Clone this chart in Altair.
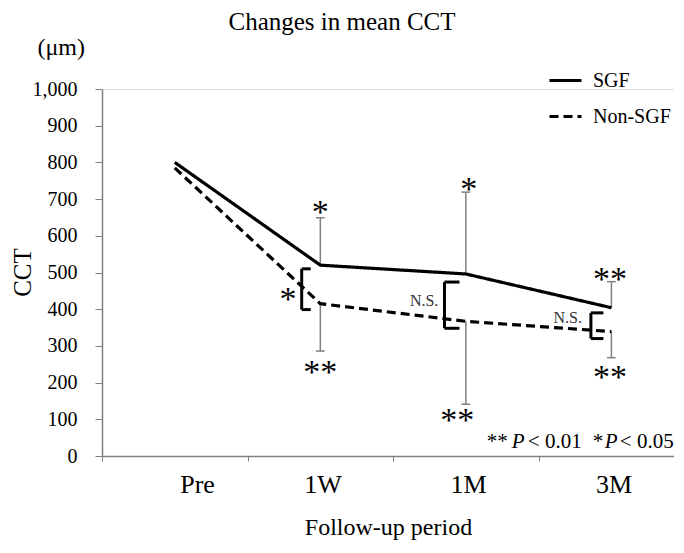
import altair as alt
import pandas as pd

# ---- data ----
periods = ["Pre", "1W", "1M", "3M"]
period_pos = [0.5, 1.5, 2.5, 3.5]
sgf_mean = [800, 520, 496, 404]
nonsgf_mean = [785, 415, 367, 339]
sgf_upper = [None, 649, 719, 475]
nonsgf_lower = [None, 286, 141, 268]
y_ticks = [0, 100, 200, 300, 400, 500, 600, 700, 800, 900, 1000]

# significance stars: (x, y, text)
star_x = [1.5, 1.5, 1.278, 2.52, 2.44, 3.49, 3.49]
star_y = [680, 244, 443, 744, 114, 499, 231]
star_text = ["*", "**", "*", "*", "**", "**", "**"]

ns_x = [2.213, 3.20]
ns_y = [422, 377]

br_x = [1.372, 2.353, 3.359]
br_x2 = [1.434, 2.456, 3.445]
br_top = [510, 474, 390]
br_bot = [399, 348, 320]

FONT = "Liberation Serif"
XMAX = 3.93

lines_df = pd.DataFrame({
    "pos": period_pos * 2,
    "CCT": sgf_mean + nonsgf_mean,
    "group": ["SGF"] * 4 + ["Non-SGF"] * 4,
})

eb_rows = []
for p, m, u in zip(period_pos, sgf_mean, sgf_upper):
    if u is not None:
        eb_rows.append({"pos": p, "a": m, "b": u, "c": u})
for p, m, l in zip(period_pos, nonsgf_mean, nonsgf_lower):
    if l is not None:
        eb_rows.append({"pos": p, "a": m, "b": l, "c": l})
eb_df = pd.DataFrame(eb_rows)
eb_df["l"] = eb_df["pos"] - 0.03
eb_df["r"] = eb_df["pos"] + 0.03

stars_df = pd.DataFrame({"x": star_x, "y": star_y, "t": star_text})
ns_df = pd.DataFrame({"x": ns_x, "y": ns_y, "t": ["N.S."] * 2})
br_df = pd.DataFrame({"x": br_x, "x2": br_x2, "top": br_top, "bot": br_bot})

foot_norm = pd.DataFrame({"x": [2.644, 2.926, 3.372, 3.558], "y": [22] * 4,
                          "t": ["**", "< 0.01", "*", "< 0.05"]})
foot_ital = pd.DataFrame({"x": [2.816, 3.455], "y": [22] * 2, "t": ["P", "P"]})
unit_df = pd.DataFrame({"x": [-0.28], "y": [1112], "t": ["(μm)"]})

xscale = alt.Scale(domain=[0, XMAX], nice=False, zero=False)
yscale = alt.Scale(domain=[0, 1000], nice=False)

xaxis = alt.Axis(
    values=[0, 1, 2, 3], title="Follow-up period", grid=False,
    labelExpr="['Pre','1W','1M','3M'][datum.value]",
    labelOffset={"condition": {"test": "datum.value == 0", "value": 95}, "value": 75},
    labelFlush=False, labelOverlap=False, labelBound=False,
    tickSize=5, tickColor="#808080", domainColor="#808080", domainWidth=1.5,
    labelFont=FONT, labelFontSize=26, labelColor="black", labelPadding=10,
    titleFont=FONT, titleFontSize=24, titleFontWeight="normal", titleColor="black",
    titlePadding=18,
)
yaxis = alt.Axis(
    values=y_ticks, format=",d", title="CCT", grid=False,
    labelOverlap=False, labelBound=False, labelFlush=False,
    tickSize=7, tickColor="#808080", domainColor="#808080", domainWidth=1.5,
    labelFont=FONT, labelFontSize=20, labelColor="black", labelPadding=18,
    titleFont=FONT, titleFontSize=25, titleFontWeight="normal", titleColor="black",
    titleX=-80, titleY=183, titleBaseline="middle", titleAlign="center",
    titleAngle=270,
)


def X(f):
    return alt.X(f, scale=xscale, axis=xaxis)


def Y(f):
    return alt.Y(f, scale=yscale, axis=yaxis)


lines = alt.Chart(lines_df).mark_line(color="black", strokeWidth=3.2).encode(
    x=X("pos:Q"), y=Y("CCT:Q"),
    strokeDash=alt.StrokeDash(
        "group:N",
        scale=alt.Scale(domain=["SGF", "Non-SGF"], range=[[1, 0], [9, 5]]),
        legend=alt.Legend(
            title=None, orient="none", legendX=446, legendY=-26,
            symbolType="stroke", symbolSize=1024, symbolStrokeWidth=3,
            symbolStrokeColor="black", labelFont=FONT, labelFontSize=20,
            labelColor="black", rowPadding=8, labelOffset=10,
        ),
    ),
)

eb = alt.Chart(eb_df).mark_rule(color="#808080", strokeWidth=1.5).encode(
    x=X("pos:Q"), y=Y("a:Q"), y2="b:Q")
caps = alt.Chart(eb_df).mark_rule(color="#808080", strokeWidth=1.5).encode(
    x=X("l:Q"), x2="r:Q", y=Y("c:Q"))

br_v = alt.Chart(br_df).mark_rule(color="black", strokeWidth=3).encode(
    x=X("x:Q"), y=Y("top:Q"), y2="bot:Q")
br_t = alt.Chart(br_df).mark_rule(color="black", strokeWidth=3).encode(
    x=X("x:Q"), x2="x2:Q", y=Y("top:Q"))
br_b = alt.Chart(br_df).mark_rule(color="black", strokeWidth=3).encode(
    x=X("x:Q"), x2="x2:Q", y=Y("bot:Q"))

stars = alt.Chart(stars_df).mark_text(
    font=FONT, fontSize=34, color="black", baseline="alphabetic", dy=17
).encode(x=X("x:Q"), y=Y("y:Q"), text="t:N")

ns = alt.Chart(ns_df).mark_text(
    font=FONT, fontSize=16, color="#333333", baseline="middle"
).encode(x=X("x:Q"), y=Y("y:Q"), text="t:N")

fn1 = alt.Chart(foot_norm).mark_text(
    font=FONT, fontSize=21, color="black", baseline="alphabetic", align="left"
).encode(x=X("x:Q"), y=Y("y:Q"), text="t:N")
fn2 = alt.Chart(foot_ital).mark_text(
    font=FONT, fontSize=21, fontStyle="italic", color="black",
    baseline="alphabetic", align="left"
).encode(x=X("x:Q"), y=Y("y:Q"), text="t:N")

unit = alt.Chart(unit_df).mark_text(
    font=FONT, fontSize=24, color="black", baseline="middle"
).encode(x=X("x:Q"), y=Y("y:Q"), text="t:N")

chart = alt.layer(
    eb, caps, lines, br_v, br_t, br_b, stars, ns, fn1, fn2, unit
).properties(
    width=572, height=367,
    title=alt.Title("Changes in mean CCT", font=FONT, fontSize=25,
                    fontWeight="normal", color="black", anchor="middle",
                    dx=-46, offset=1),
    autosize=alt.AutoSizeParams(type="none"),
    padding={"left": 94, "top": 81, "right": 0, "bottom": 89},
).configure_view(strokeWidth=0).configure(
    background="white", font=FONT
).configure_axis(labelFont=FONT, titleFont=FONT).configure_legend(
    labelFont=FONT
).configure_text(font=FONT)

chart.save("out.html", embed_options={"renderer": "svg", "actions": False})
